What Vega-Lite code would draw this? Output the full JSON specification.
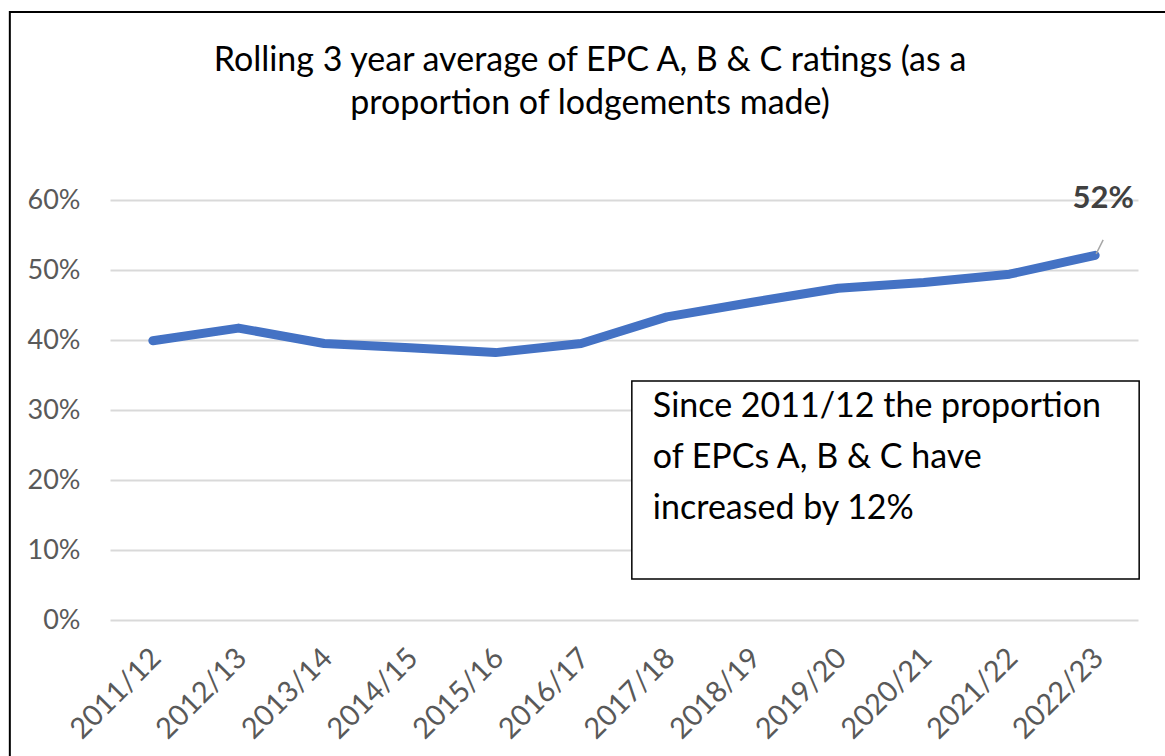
{
  "$schema": "https://vega.github.io/schema/vega-lite/v6.json",
  "autosize": {"type": "none"},
  "width": 1028,
  "height": 420,
  "padding": {"left": 110, "top": 200, "right": 27, "bottom": 136},
  "background": "white",
  "config": {"view": {"stroke": null}, "font": "Lato"},
  "title": {
    "text": ["Rolling 3 year average of EPC A, B & C ratings (as a", "proportion of lodgements made)"],
    "font": "Lato",
    "fontSize": 34,
    "fontWeight": "normal",
    "color": "#000000",
    "anchor": "middle",
    "baseline": "bottom",
    "lineHeight": 43,
    "offset": 0,
    "dx": -34,
    "dy": 144
  },
  "datasets": {
    "main": [
      {"year": "2011/12", "share": 0.399},
      {"year": "2012/13", "share": 0.417},
      {"year": "2013/14", "share": 0.395},
      {"year": "2014/15", "share": 0.389},
      {"year": "2015/16", "share": 0.382},
      {"year": "2016/17", "share": 0.395},
      {"year": "2017/18", "share": 0.433},
      {"year": "2018/19", "share": 0.454},
      {"year": "2019/20", "share": 0.474},
      {"year": "2020/21", "share": 0.482},
      {"year": "2021/22", "share": 0.494},
      {"year": "2022/23", "share": 0.521}
    ],
    "frame": [{"x1": "2011/12", "x2": "2022/23", "top": 0.8686, "bottom": -0.3}],
    "box": [{"x1": "2017/18", "x2": "2022/23", "top": 0.3414, "bottom": 0.0586,
             "label": ["Since 2011/12 the proportion", "of EPCs A, B & C have", "increased by 12%"],
             "ty": 0.29}],
    "last": [{"year": "2022/23", "share": 0.521, "label": "52%", "lead1": 0.523, "lead2": 0.543}]
  },
  "layer": [
    {
      "data": {"name": "frame"},
      "mark": {"type": "rect", "fill": null, "stroke": "#000000", "strokeWidth": 2, "xOffset": -143, "x2Offset": 80, "clip": false},
      "encoding": {
        "x": {"field": "x1", "type": "nominal", "scale": {"type": "point"}},
        "x2": {"field": "x2"},
        "y": {"field": "top", "type": "quantitative"},
        "y2": {"field": "bottom"}
      }
    },
    {
      "data": {"name": "main"},
      "mark": {"type": "line", "color": "#4472C4", "strokeWidth": 9, "strokeCap": "round", "strokeJoin": "round"},
      "encoding": {
        "x": {
          "field": "year", "type": "nominal", "sort": null,
          "scale": {"type": "point", "padding": 0.5},
          "axis": {
            "title": null, "domain": false, "ticks": false, "grid": false,
            "labelAngle": -45, "labelAlign": "right", "labelBaseline": "middle",
            "labelFont": "Lato", "labelFontSize": 29, "labelColor": "#595959",
            "labelPadding": 33, "labelOffset": 3
          }
        },
        "y": {
          "field": "share", "type": "quantitative",
          "scale": {"domain": [0, 0.6], "nice": false, "zero": true},
          "axis": {
            "title": null, "domain": false, "ticks": false, "grid": true,
            "gridColor": "#d9d9d9", "gridWidth": 2,
            "values": [0, 0.1, 0.2, 0.3, 0.4, 0.5, 0.6], "format": ".0%",
            "labelFont": "Lato", "labelFontSize": 27, "labelColor": "#595959",
            "labelPadding": 30
          }
        }
      }
    },
    {
      "data": {"name": "box"},
      "mark": {"type": "rect", "fill": "white", "stroke": "#000000", "strokeWidth": 1.5, "xOffset": -35, "x2Offset": 44},
      "encoding": {
        "x": {"field": "x1", "type": "nominal", "scale": {"type": "point"}},
        "x2": {"field": "x2"},
        "y": {"field": "top", "type": "quantitative"},
        "y2": {"field": "bottom"}
      }
    },
    {
      "data": {"name": "box"},
      "mark": {"type": "text", "align": "left", "baseline": "alphabetic", "font": "Lato", "fontSize": 34, "lineHeight": 51, "color": "#000000", "dx": -14},
      "encoding": {
        "x": {"field": "x1", "type": "nominal"},
        "y": {"field": "ty", "type": "quantitative"},
        "text": {"field": "label"}
      }
    },
    {
      "data": {"name": "last"},
      "mark": {"type": "rule", "color": "#a6a6a6", "strokeWidth": 1.5, "xOffset": 1, "x2Offset": 8},
      "encoding": {
        "x": {"field": "year", "type": "nominal"},
        "x2": {"field": "year"},
        "y": {"field": "lead1", "type": "quantitative"},
        "y2": {"field": "lead2"}
      }
    },
    {
      "data": {"name": "last"},
      "mark": {"type": "text", "align": "center", "baseline": "alphabetic", "font": "Lato", "fontSize": 31, "fontWeight": "bold", "color": "#404040", "dx": 8, "dy": -47},
      "encoding": {
        "x": {"field": "year", "type": "nominal"},
        "y": {"field": "share", "type": "quantitative"},
        "text": {"field": "label"}
      }
    }
  ]
}
